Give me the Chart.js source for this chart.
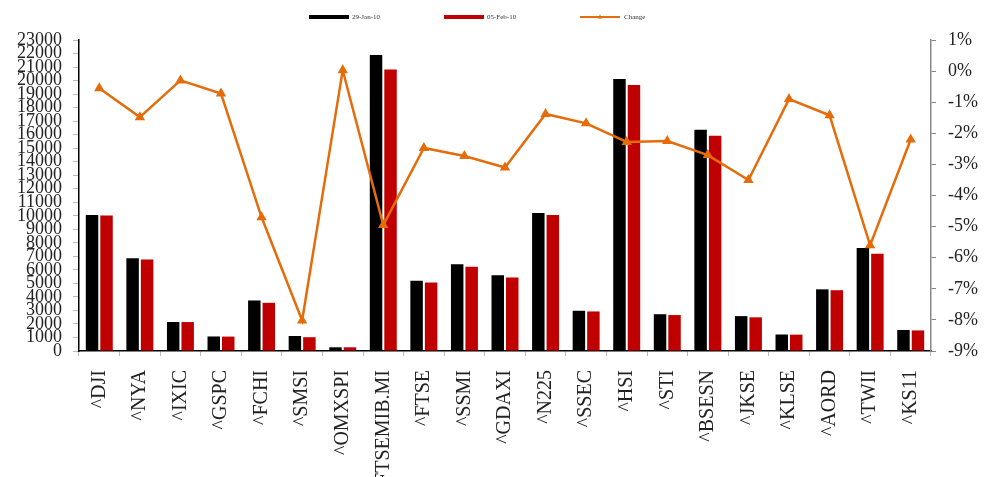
<!DOCTYPE html>
<html>
<head>
<meta charset="utf-8">
<script src="https://cdn.jsdelivr.net/npm/chart.js@4/dist/chart.umd.min.js"></script>
<style>
  html, body { margin: 0; padding: 0; background: #fff; }
  #wrap { width: 992px; height: 477px; }
</style>
</head>
<body>
<div id="wrap"><canvas id="chart"></canvas></div>
<script>
// data
const indices = ["^DJI", "^NYA", "^IXIC", "^GSPC", "^FCHI", "^SMSI", "^OMXSPI", "^FTSEMIB.MI", "^FTSE", "^SSMI",
  "^GDAXI", "^N225", "^SSEC", "^HSI", "^STI", "^BSESN", "^JKSE", "^KLSE", "^AORD", "^TWII", "^KS11"];
const jan29 = [10067, 6860, 2147, 1074, 3737, 1110, 275, 21890, 5188, 6410,
  5608, 10198, 2975, 20122, 2720, 16357, 2580, 1220, 4560, 7612, 1555];
const feb05 = [10012, 6760, 2141, 1066, 3563, 1021, 275, 20810, 5060, 6235,
  5434, 10057, 2925, 19665, 2659, 15916, 2490, 1209, 4495, 7186, 1521];
const changePct = [-0.55, -1.48, -0.3, -0.72, -4.7, -8.02, 0.03, -4.95, -2.47, -2.73,
  -3.1, -1.38, -1.68, -2.28, -2.25, -2.7, -3.5, -0.9, -1.42, -5.6, -2.2];

const ORANGE = "#E46C0A";
const RED = "#C00000";
const SERIF = "'Liberation Serif', 'DejaVu Serif', serif";

// small legend drawn at the top, like the original
const topLegend = {
  id: "topLegend",
  afterDraw(chart) {
    const ctx = chart.ctx;
    const y = 17;
    ctx.save();
    ctx.font = "7px " + SERIF;
    ctx.textBaseline = "middle";

    ctx.fillStyle = "#000";
    ctx.fillRect(309, y - 2, 40, 4);
    ctx.fillStyle = "#333";
    ctx.fillText("29-Jan-10", 352, y);

    ctx.fillStyle = RED;
    ctx.fillRect(444, y - 2, 40, 4);
    ctx.fillStyle = "#333";
    ctx.fillText("05-Feb-10", 487, y);

    ctx.strokeStyle = ORANGE;
    ctx.lineWidth = 2;
    ctx.beginPath();
    ctx.moveTo(580, y);
    ctx.lineTo(620, y);
    ctx.stroke();
    ctx.fillStyle = ORANGE;
    ctx.beginPath();
    ctx.moveTo(600, y - 2.5);
    ctx.lineTo(602.5, y + 1.5);
    ctx.lineTo(597.5, y + 1.5);
    ctx.closePath();
    ctx.fill();
    ctx.fillStyle = "#333";
    ctx.fillText("Change", 624, y);
    ctx.restore();
  }
};

new Chart(document.getElementById("chart"), {
  type: "bar",
  data: {
    labels: indices,
    datasets: [
      {
        type: "line",
        label: "Change",
        data: changePct,
        yAxisID: "yPct",
        borderColor: ORANGE,
        backgroundColor: ORANGE,
        borderWidth: 2.5,
        pointStyle: "triangle",
        pointRadius: 3.5,
        pointBackgroundColor: ORANGE,
        pointBorderColor: ORANGE,
        tension: 0,
        order: 0
      },
      {
        label: "29-Jan-10",
        data: jan29,
        yAxisID: "y",
        backgroundColor: "#000",
        categoryPercentage: 0.715,
        barPercentage: 0.86,
        order: 1
      },
      {
        label: "05-Feb-10",
        data: feb05,
        yAxisID: "y",
        backgroundColor: RED,
        categoryPercentage: 0.715,
        barPercentage: 0.86,
        order: 1
      }
    ]
  },
  options: {
    responsive: true,
    maintainAspectRatio: false,
    animation: false,
    layout: { padding: { top: 40, left: 0, right: 0, bottom: 0 } },
    plugins: {
      legend: { display: false },
      tooltip: { enabled: false }
    },
    scales: {
      x: {
        offset: true,
        grid: {
          offset: true,
          drawOnChartArea: false,
          drawTicks: true,
          tickLength: 5,
          tickColor: "#bbb"
        },
        border: { display: true, color: "#000", width: 1.5 },
        ticks: {
          autoSkip: false,
          minRotation: 90,
          maxRotation: 90,
          padding: 14,
          color: "#222",
          font: { family: SERIF, size: 20 }
        },
        afterFit(scale) { scale.height = 126; }
      },
      y: {
        position: "left",
        min: 0,
        max: 23000,
        grid: {
          drawOnChartArea: false,
          drawTicks: true,
          tickLength: 6,
          tickColor: "#bbb"
        },
        border: { display: true, color: "#000", width: 1.5 },
        ticks: {
          stepSize: 1000,
          autoSkip: false,
          padding: 11,
          color: "#222",
          font: { family: SERIF, size: 18 },
          callback: (v) => String(v)
        },
        afterFit(scale) { scale.width = 79; }
      },
      yPct: {
        position: "right",
        min: -9,
        max: 1,
        grid: {
          drawOnChartArea: false,
          drawTicks: true,
          tickLength: 5,
          tickColor: "#888"
        },
        border: { display: true, color: "#888", width: 1.5 },
        ticks: {
          stepSize: 1,
          autoSkip: false,
          padding: 12,
          color: "#222",
          font: { family: SERIF, size: 18 },
          callback: (v) => v + "%"
        },
        afterFit(scale) { scale.width = 61; }
      }
    }
  },
  plugins: [topLegend]
});
</script>
</body>
</html>
